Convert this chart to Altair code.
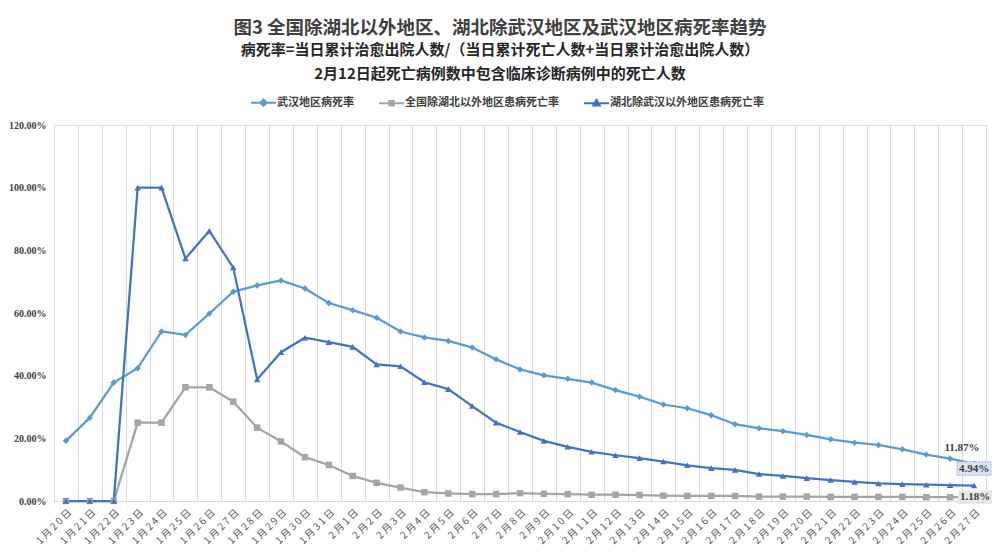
import altair as alt
import pandas as pd

dates = [f"1月{d}日" for d in range(20, 32)] + [f"2月{d}日" for d in range(1, 28)]

s_wuhan = "武汉地区病死率"
s_nat = "全国除湖北以外地区患病死亡率"
s_hubei = "湖北除武汉以外地区患病死亡率"

wuhan = [19.2, 26.6, 37.8, 42.4, 54.1, 53.0, 59.8, 66.8, 68.8, 70.4, 67.8, 63.2,
         60.9, 58.5, 54.1, 52.2, 51.1, 49.0, 45.2, 42.0, 40.1, 39.0, 37.8, 35.4, 33.3,
         30.8, 29.6, 27.4, 24.5, 23.2, 22.3, 21.1, 19.7, 18.6, 17.9, 16.5, 14.8, 13.5, 11.87]
national = [0, 0, 0, 25.0, 25.0, 36.3, 36.3, 31.7, 23.4, 19.0, 14.0, 11.5,
            8.0, 5.8, 4.3, 2.8, 2.4, 2.2, 2.2, 2.5, 2.3, 2.2, 2.0, 2.0, 1.9,
            1.7, 1.6, 1.6, 1.6, 1.4, 1.4, 1.4, 1.3, 1.3, 1.3, 1.3, 1.2, 1.2, 1.18]
hubei = [0, 0, 0, 100, 100, 77.4, 86.2, 74.5, 38.8, 47.5, 52.1, 50.7,
         49.2, 43.6, 43.0, 37.9, 35.7, 30.3, 25.0, 22.0, 19.2, 17.3, 15.7, 14.6, 13.7,
         12.6, 11.4, 10.5, 9.9, 8.6, 8.0, 7.3, 6.7, 6.1, 5.6, 5.4, 5.2, 5.05, 4.94]

series_names = [s_wuhan, s_nat, s_hubei]
series_vals = [wuhan, national, hubei]
colors = ["#5B9BD5", "#A5A5A5", "#4472C4"]
marker_shapes = ["diamond", "square", "triangle-up"]

rows = []
for name, vals in zip(series_names, series_vals):
    for d, v in zip(dates, vals):
        rows.append({"date": d, "series": name, "rate": v / 100.0})
df = pd.DataFrame(rows)

title_main = "图3 全国除湖北以外地区、湖北除武汉地区及武汉地区病死率趋势"
sub1 = "病死率=当日累计治愈出院人数/（当日累计死亡人数+当日累计治愈出院人数）"
sub2 = "2月12日起死亡病例数中包含临床诊断病例中的死亡人数"

CJK = "Noto Sans CJK SC"
SERIF = "Liberation Serif"
THIN = "\u2009"

x = alt.X("date:O", sort=dates, bandPosition=0.5,
          scale=alt.Scale(type="band", paddingInner=0, paddingOuter=0),
          axis=alt.Axis(title=None, labelAngle=-45, tickBand="extent", grid=True,
                        gridColor="#D9D9D9", gridWidth=1, ticks=False,
                        domainColor="#D9D9D9", labelColor="#595959", labelFontSize=10,
                        labelFont=CJK, labelPadding=6,
                        labelExpr=f"join(split(datum.label, ''), '{THIN}')"))
y = alt.Y("rate:Q", scale=alt.Scale(domain=[0, 1.2], nice=False),
          axis=alt.Axis(title=None, values=[0, 0.2, 0.4, 0.6, 0.8, 1.0, 1.2], format=".2%",
                        grid=False, domain=False, ticks=False, labelFont=SERIF,
                        labelFontWeight="bold", labelFontSize=10, labelColor="#404040",
                        labelPadding=8))

# legend symbols: a short line with the series marker (marker drawn with nested outlines)
legend_paths = [
    "M-1,0H1M0,-0.26L0.26,0L0,0.26L-0.26,0ZM0,-0.1L0.1,0L0,0.1L-0.1,0Z",
    "M-1,0H1M-0.18,-0.18H0.18V0.18H-0.18ZM-0.06,-0.06H0.06V0.06H-0.06Z",
    "M-1,0H1M0,-0.26L0.26,0.18H-0.26ZM0,-0.06L0.08,0.1H-0.08Z",
]

leg = alt.Legend(title=None, orient="none", legendX=196, legendY=-36, direction="horizontal",
                 symbolSize=625, symbolStrokeWidth=2, labelFont=CJK, labelFontSize=11,
                 labelFontWeight="bold", labelColor="#404040", columnPadding=21,
                 labelOffset=0, symbolOpacity=1)

color_scale = alt.Scale(domain=series_names, range=colors)

base = alt.Chart(df)

legend_layer = base.transform_filter("false").mark_point(
    filled=False, strokeWidth=2, opacity=1).encode(
    x=x, y=y,
    color=alt.Color("series:N", scale=color_scale, legend=leg),
    shape=alt.Shape("series:N", scale=alt.Scale(domain=series_names, range=legend_paths),
                    legend=leg),
)

lines = base.mark_line(strokeWidth=2.25).encode(
    x=x, y=y, color=alt.Color("series:N", scale=color_scale, legend=None))

point_layers = []
for name, shp in zip(series_names, marker_shapes):
    point_layers.append(
        base.transform_filter(alt.datum.series == name)
        .mark_point(filled=True, size=42, opacity=1, shape=shp)
        .encode(x=x, y=y, color=alt.Color("series:N", scale=color_scale, legend=None))
    )

box_path = "M-1,-0.4H1V0.4H-1Z"
last_date = dates[-1]
df_w = df[(df.series == s_wuhan) & (df.date == last_date)]
df_h = df[(df.series == s_hubei) & (df.date == last_date)]
df_n = df[(df.series == s_nat) & (df.date == last_date)]

txt_style = dict(font=SERIF, fontWeight="bold", fontSize=11, color="#404040")
lab_w = alt.Chart(df_w).mark_text(dx=-12, dy=-16, **txt_style).encode(
    x=x, y=y, text=alt.Text("rate:Q", format=".2%"))
box_h = alt.Chart(df_h).mark_point(shape=box_path, size=1156, filled=True, fill="#DAE3F3",
                                   stroke="#9DB5E0", strokeWidth=1, strokeDash=[2, 1],
                                   opacity=1, yOffset=-17).encode(x=x, y=y)
lab_h = alt.Chart(df_h).mark_text(dy=-17, **txt_style).encode(
    x=x, y=y, text=alt.Text("rate:Q", format=".2%"))
box_n = alt.Chart(df_n).mark_point(shape=box_path, size=1156, filled=True, fill="#E7E6E6",
                                   opacity=1, xOffset=1).encode(x=x, y=y)
lab_n = alt.Chart(df_n).mark_text(dx=1, **txt_style).encode(
    x=x, y=y, text=alt.Text("rate:Q", format=".2%"))

chart = alt.layer(legend_layer, lines, *point_layers, lab_w, box_h, lab_h, box_n, lab_n).properties(
    width=932, height=376,
    autosize=alt.AutoSizeParams(type="none"),
    padding={"left": 46, "top": 117, "right": 6, "bottom": 45},
    title=alt.TitleParams(text=title_main, subtitle=[sub1, sub2], anchor="middle", dx=-20,
                          font=CJK, fontSize=18.5, fontWeight="bold", color="#404040",
                          subtitleFont=CJK, subtitleFontSize=15, subtitleFontWeight="bold",
                          subtitleColor="#262626", subtitlePadding=6, subtitleLineHeight=24,
                          offset=7),
).configure_view(stroke=None).configure(background="white")

chart.save("out.html", embed_options={"renderer": "svg", "actions": False})
